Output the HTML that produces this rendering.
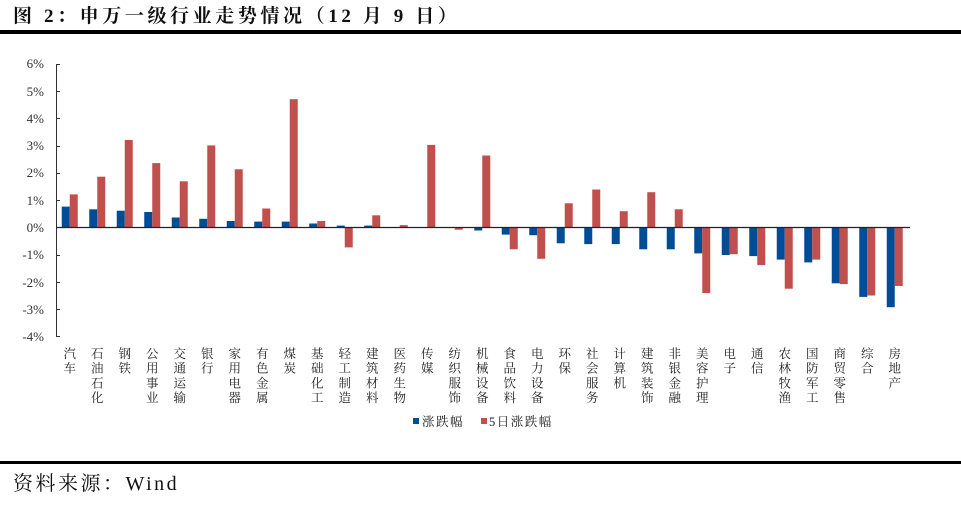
<!DOCTYPE html>
<html><head><meta charset="utf-8"><style>
html,body{margin:0;padding:0;background:#fff;width:961px;height:525px;overflow:hidden}
svg{display:block}
.t{font-family:"Liberation Serif","Noto Serif CJK SC",serif}
.c{font-family:"Liberation Serif","Noto Serif CJK SC",serif;font-size:12.5px;fill:#222}
.y{font-family:"Liberation Serif",serif;font-size:13px;fill:#333}
</style></head><body>
<svg width="961" height="525" viewBox="0 0 961 525" xmlns="http://www.w3.org/2000/svg">
<text x="13" y="22" class="t" font-size="19" font-weight="bold" fill="#111" letter-spacing="3.6">图 2：申万一级行业走势情况（12 月 9 日）</text>
<rect x="0" y="30" width="961" height="4" fill="#000"/>
<rect x="0" y="461" width="961" height="3" fill="#000"/>
<text x="13" y="490" class="t" font-size="20" fill="#111" letter-spacing="2.5">资料来源：Wind</text>
<g class="y" text-anchor="end">
<text x="44" y="68">6%</text><text x="44" y="96">5%</text><text x="44" y="123">4%</text><text x="44" y="150">3%</text><text x="44" y="177">2%</text><text x="44" y="205">1%</text><text x="44" y="232">0%</text><text x="44" y="259">-1%</text><text x="44" y="287">-2%</text><text x="44" y="314">-3%</text><text x="44" y="341">-4%</text>
</g>
<g stroke="#333" stroke-width="1">
<line x1="56.5" y1="64" x2="56.5" y2="337"/>
<line x1="56" y1="64.5" x2="60" y2="64.5"/><line x1="56" y1="91.5" x2="60" y2="91.5"/><line x1="56" y1="118.5" x2="60" y2="118.5"/><line x1="56" y1="146.5" x2="60" y2="146.5"/><line x1="56" y1="173.5" x2="60" y2="173.5"/><line x1="56" y1="200.5" x2="60" y2="200.5"/><line x1="56" y1="255.5" x2="60" y2="255.5"/><line x1="56" y1="282.5" x2="60" y2="282.5"/><line x1="56" y1="309.5" x2="60" y2="309.5"/><line x1="56" y1="336.5" x2="60" y2="336.5"/>
</g>
<g fill="#004c97">
<rect x="61.75" y="206.6" width="8" height="20.4"/>
<rect x="89.25" y="209.3" width="8" height="17.7"/>
<rect x="116.75" y="210.7" width="8" height="16.3"/>
<rect x="144.25" y="212" width="8" height="15"/>
<rect x="171.75" y="217.5" width="8" height="9.5"/>
<rect x="199.25" y="218.8" width="8" height="8.2"/>
<rect x="226.75" y="221" width="8" height="6"/>
<rect x="254.25" y="221.6" width="8" height="5.4"/>
<rect x="281.75" y="221.6" width="8" height="5.4"/>
<rect x="309.25" y="223.5" width="8" height="3.5"/>
<rect x="336.75" y="225.6" width="8" height="1.4"/>
<rect x="364.25" y="225.6" width="8" height="1.4"/>
<rect x="446.75" y="227" width="8" height="0.8"/>
<rect x="474.25" y="227" width="8" height="3.5"/>
<rect x="501.75" y="227" width="8" height="7.6"/>
<rect x="529.25" y="227" width="8" height="8.2"/>
<rect x="556.75" y="227" width="8" height="16.3"/>
<rect x="584.25" y="227" width="8" height="17.1"/>
<rect x="611.75" y="227" width="8" height="17.1"/>
<rect x="639.25" y="227" width="8" height="22.3"/>
<rect x="666.75" y="227" width="8" height="22.3"/>
<rect x="694.25" y="227" width="8" height="26.4"/>
<rect x="721.75" y="227" width="8" height="28"/>
<rect x="749.25" y="227" width="8" height="29.1"/>
<rect x="776.75" y="227" width="8" height="32.6"/>
<rect x="804.25" y="227" width="8" height="35.4"/>
<rect x="831.75" y="227" width="8" height="56.3"/>
<rect x="859.25" y="227" width="8" height="69.9"/>
<rect x="886.75" y="227" width="8" height="80.2"/>
</g>
<g fill="#c0504d">
<rect x="69.75" y="194.4" width="8" height="32.6"/>
<rect x="97.25" y="176.7" width="8" height="50.3"/>
<rect x="124.75" y="140" width="8" height="87"/>
<rect x="152.25" y="163.1" width="8" height="63.9"/>
<rect x="179.75" y="181.3" width="8" height="45.7"/>
<rect x="207.25" y="145.4" width="8" height="81.6"/>
<rect x="234.75" y="169.3" width="8" height="57.7"/>
<rect x="262.25" y="208.5" width="8" height="18.5"/>
<rect x="289.75" y="99.2" width="8" height="127.8"/>
<rect x="317.25" y="221" width="8" height="6"/>
<rect x="344.75" y="227" width="8" height="20.4"/>
<rect x="372.25" y="215.3" width="8" height="11.7"/>
<rect x="399.75" y="225.1" width="8" height="1.9"/>
<rect x="427.25" y="144.9" width="8" height="82.1"/>
<rect x="454.75" y="227" width="8" height="2.7"/>
<rect x="482.25" y="155.5" width="8" height="71.5"/>
<rect x="509.75" y="227" width="8" height="22.3"/>
<rect x="537.25" y="227" width="8" height="31.8"/>
<rect x="564.75" y="203.3" width="8" height="23.7"/>
<rect x="592.25" y="189.5" width="8" height="37.5"/>
<rect x="619.75" y="211.2" width="8" height="15.8"/>
<rect x="647.25" y="192.2" width="8" height="34.8"/>
<rect x="674.75" y="209.3" width="8" height="17.7"/>
<rect x="702.25" y="227" width="8" height="66.1"/>
<rect x="729.75" y="227" width="8" height="27.2"/>
<rect x="757.25" y="227" width="8" height="38.1"/>
<rect x="784.75" y="227" width="8" height="61.7"/>
<rect x="812.25" y="227" width="8" height="32.6"/>
<rect x="839.75" y="227" width="8" height="57.1"/>
<rect x="867.25" y="227" width="8" height="68.5"/>
<rect x="894.75" y="227" width="8" height="59"/>
</g>
<line x1="56" y1="227.5" x2="910" y2="227.5" stroke="#222" stroke-width="1.2"/>
<g class="c" text-anchor="middle">
<text y="358"><tspan x="69.75">汽</tspan><tspan x="69.75" dy="14.7">车</tspan></text>
<text y="358"><tspan x="97.25">石</tspan><tspan x="97.25" dy="14.7">油</tspan><tspan x="97.25" dy="14.7">石</tspan><tspan x="97.25" dy="14.7">化</tspan></text>
<text y="358"><tspan x="124.75">钢</tspan><tspan x="124.75" dy="14.7">铁</tspan></text>
<text y="358"><tspan x="152.25">公</tspan><tspan x="152.25" dy="14.7">用</tspan><tspan x="152.25" dy="14.7">事</tspan><tspan x="152.25" dy="14.7">业</tspan></text>
<text y="358"><tspan x="179.75">交</tspan><tspan x="179.75" dy="14.7">通</tspan><tspan x="179.75" dy="14.7">运</tspan><tspan x="179.75" dy="14.7">输</tspan></text>
<text y="358"><tspan x="207.25">银</tspan><tspan x="207.25" dy="14.7">行</tspan></text>
<text y="358"><tspan x="234.75">家</tspan><tspan x="234.75" dy="14.7">用</tspan><tspan x="234.75" dy="14.7">电</tspan><tspan x="234.75" dy="14.7">器</tspan></text>
<text y="358"><tspan x="262.25">有</tspan><tspan x="262.25" dy="14.7">色</tspan><tspan x="262.25" dy="14.7">金</tspan><tspan x="262.25" dy="14.7">属</tspan></text>
<text y="358"><tspan x="289.75">煤</tspan><tspan x="289.75" dy="14.7">炭</tspan></text>
<text y="358"><tspan x="317.25">基</tspan><tspan x="317.25" dy="14.7">础</tspan><tspan x="317.25" dy="14.7">化</tspan><tspan x="317.25" dy="14.7">工</tspan></text>
<text y="358"><tspan x="344.75">轻</tspan><tspan x="344.75" dy="14.7">工</tspan><tspan x="344.75" dy="14.7">制</tspan><tspan x="344.75" dy="14.7">造</tspan></text>
<text y="358"><tspan x="372.25">建</tspan><tspan x="372.25" dy="14.7">筑</tspan><tspan x="372.25" dy="14.7">材</tspan><tspan x="372.25" dy="14.7">料</tspan></text>
<text y="358"><tspan x="399.75">医</tspan><tspan x="399.75" dy="14.7">药</tspan><tspan x="399.75" dy="14.7">生</tspan><tspan x="399.75" dy="14.7">物</tspan></text>
<text y="358"><tspan x="427.25">传</tspan><tspan x="427.25" dy="14.7">媒</tspan></text>
<text y="358"><tspan x="454.75">纺</tspan><tspan x="454.75" dy="14.7">织</tspan><tspan x="454.75" dy="14.7">服</tspan><tspan x="454.75" dy="14.7">饰</tspan></text>
<text y="358"><tspan x="482.25">机</tspan><tspan x="482.25" dy="14.7">械</tspan><tspan x="482.25" dy="14.7">设</tspan><tspan x="482.25" dy="14.7">备</tspan></text>
<text y="358"><tspan x="509.75">食</tspan><tspan x="509.75" dy="14.7">品</tspan><tspan x="509.75" dy="14.7">饮</tspan><tspan x="509.75" dy="14.7">料</tspan></text>
<text y="358"><tspan x="537.25">电</tspan><tspan x="537.25" dy="14.7">力</tspan><tspan x="537.25" dy="14.7">设</tspan><tspan x="537.25" dy="14.7">备</tspan></text>
<text y="358"><tspan x="564.75">环</tspan><tspan x="564.75" dy="14.7">保</tspan></text>
<text y="358"><tspan x="592.25">社</tspan><tspan x="592.25" dy="14.7">会</tspan><tspan x="592.25" dy="14.7">服</tspan><tspan x="592.25" dy="14.7">务</tspan></text>
<text y="358"><tspan x="619.75">计</tspan><tspan x="619.75" dy="14.7">算</tspan><tspan x="619.75" dy="14.7">机</tspan></text>
<text y="358"><tspan x="647.25">建</tspan><tspan x="647.25" dy="14.7">筑</tspan><tspan x="647.25" dy="14.7">装</tspan><tspan x="647.25" dy="14.7">饰</tspan></text>
<text y="358"><tspan x="674.75">非</tspan><tspan x="674.75" dy="14.7">银</tspan><tspan x="674.75" dy="14.7">金</tspan><tspan x="674.75" dy="14.7">融</tspan></text>
<text y="358"><tspan x="702.25">美</tspan><tspan x="702.25" dy="14.7">容</tspan><tspan x="702.25" dy="14.7">护</tspan><tspan x="702.25" dy="14.7">理</tspan></text>
<text y="358"><tspan x="729.75">电</tspan><tspan x="729.75" dy="14.7">子</tspan></text>
<text y="358"><tspan x="757.25">通</tspan><tspan x="757.25" dy="14.7">信</tspan></text>
<text y="358"><tspan x="784.75">农</tspan><tspan x="784.75" dy="14.7">林</tspan><tspan x="784.75" dy="14.7">牧</tspan><tspan x="784.75" dy="14.7">渔</tspan></text>
<text y="358"><tspan x="812.25">国</tspan><tspan x="812.25" dy="14.7">防</tspan><tspan x="812.25" dy="14.7">军</tspan><tspan x="812.25" dy="14.7">工</tspan></text>
<text y="358"><tspan x="839.75">商</tspan><tspan x="839.75" dy="14.7">贸</tspan><tspan x="839.75" dy="14.7">零</tspan><tspan x="839.75" dy="14.7">售</tspan></text>
<text y="358"><tspan x="867.25">综</tspan><tspan x="867.25" dy="14.7">合</tspan></text>
<text y="358"><tspan x="894.75">房</tspan><tspan x="894.75" dy="14.7">地</tspan><tspan x="894.75" dy="14.7">产</tspan></text>
</g>
<rect x="413" y="418" width="6" height="6" fill="#004c97"/>
<text x="422" y="426" class="c" font-size="12" letter-spacing="1.5">涨跌幅</text>
<rect x="481" y="418" width="6" height="6" fill="#c0504d"/>
<text x="489" y="426" class="c" font-size="12" letter-spacing="1.5">5日涨跌幅</text>
</svg>
</body></html>
